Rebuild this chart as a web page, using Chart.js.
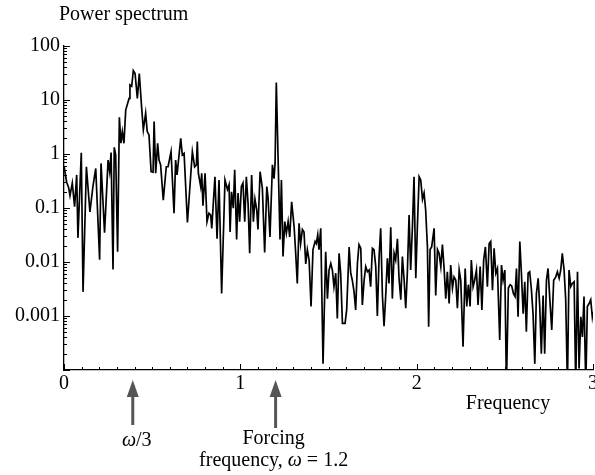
<!DOCTYPE html>
<html>
<head>
<meta charset="utf-8">
<script src="https://cdn.jsdelivr.net/npm/chart.js@4.4.0/dist/chart.umd.min.js"></script>
<style>
  body { margin: 0; background: #fff; }
  canvas { display: block; }
</style>
</head>
<body>
<canvas id="spectrumChart" width="595" height="475"></canvas>
<script>
// frequency axis values
const frequency = [
  0, 0.015, 0.026, 0.034, 0.047, 0.06, 0.072, 0.079, 0.098, 0.108,
  0.127, 0.147, 0.164, 0.18, 0.202, 0.21, 0.23, 0.25, 0.259, 0.267,
  0.278, 0.285, 0.293, 0.304, 0.314, 0.323, 0.331, 0.34, 0.35, 0.369,
  0.374, 0.384, 0.393, 0.403, 0.416, 0.427, 0.44, 0.45, 0.463, 0.472,
  0.482, 0.494, 0.505, 0.511, 0.52, 0.531, 0.539, 0.548, 0.563, 0.58,
  0.59, 0.607, 0.624, 0.633, 0.641, 0.662, 0.671, 0.681, 0.7, 0.713,
  0.728, 0.741, 0.751, 0.756, 0.762, 0.775, 0.781, 0.788, 0.8, 0.811,
  0.822, 0.832, 0.838, 0.856, 0.868, 0.879, 0.894, 0.913, 0.927, 0.936,
  0.942, 0.95, 0.96, 0.968, 0.979, 0.987, 0.996, 1.006, 1.015, 1.025,
  1.034, 1.044, 1.053, 1.064, 1.074, 1.083, 1.093, 1.1, 1.112, 1.125,
  1.138, 1.15, 1.157, 1.168, 1.182, 1.191, 1.197, 1.204, 1.225, 1.233,
  1.242, 1.252, 1.261, 1.271, 1.28, 1.291, 1.305, 1.314, 1.323, 1.333,
  1.342, 1.352, 1.361, 1.371, 1.38, 1.39, 1.401, 1.412, 1.424, 1.431,
  1.439, 1.446, 1.456, 1.469, 1.484, 1.494, 1.503, 1.513, 1.522, 1.531,
  1.541, 1.55, 1.56, 1.569, 1.579, 1.594, 1.603, 1.617, 1.626, 1.635,
  1.645, 1.654, 1.664, 1.673, 1.683, 1.692, 1.702, 1.711, 1.721, 1.73,
  1.739, 1.749, 1.758, 1.768, 1.777, 1.787, 1.796, 1.806, 1.815, 1.825,
  1.834, 1.843, 1.853, 1.862, 1.872, 1.881, 1.891, 1.9, 1.91, 1.919,
  1.929, 1.938, 1.947, 1.957, 1.966, 1.976, 1.985, 1.995, 2.004, 2.014,
  2.023, 2.033, 2.042, 2.051, 2.061, 2.068, 2.076, 2.085, 2.099, 2.108,
  2.118, 2.127, 2.137, 2.146, 2.155, 2.165, 2.174, 2.184, 2.193, 2.203,
  2.212, 2.222, 2.231, 2.241, 2.25, 2.263, 2.275, 2.284, 2.293, 2.303,
  2.31, 2.32, 2.329, 2.339, 2.348, 2.36, 2.37, 2.38, 2.39, 2.401,
  2.411, 2.42, 2.43, 2.439, 2.449, 2.458, 2.471, 2.481, 2.49, 2.5,
  2.509, 2.52, 2.53, 2.539, 2.549, 2.558, 2.566, 2.575, 2.585, 2.594,
  2.604, 2.613, 2.622, 2.632, 2.641, 2.651, 2.66, 2.67, 2.679, 2.689,
  2.698, 2.707, 2.717, 2.726, 2.736, 2.745, 2.755, 2.766, 2.777, 2.788,
  2.798, 2.808, 2.817, 2.826, 2.836, 2.845, 2.855, 2.864, 2.874, 2.883,
  2.893, 2.902, 2.912, 2.921, 2.931, 2.94, 2.949, 2.959, 2.968, 2.978,
  2.987, 2.996, 3.0
];

// power spectrum values (estimated)
const power = [
  0.6, 0.3, 0.24, 0.17, 0.29, 0.106, 0.41, 0.028, 1.05, 0.0028,
  0.58, 0.085, 0.25, 0.54, 0.011, 0.67, 0.035, 0.77, 0.47, 1.06,
  0.0073, 1.33, 0.96, 0.0155, 4.8, 1.58, 2.6, 1.58, 6.5, 10.7,
  19, 18, 35, 31, 10.7, 31, 7.5, 2.8, 5.7, 2.6,
  2.25, 0.47, 0.46, 4.0, 0.44, 1.58, 0.77, 0.63, 0.14, 0.58,
  0.58, 1.1, 0.08, 0.77, 0.41, 1.95, 0.96, 1.03, 0.054, 0.22,
  1.1, 0.58, 0.63, 1.7, 0.44, 0.25, 0.44, 0.11, 0.44, 0.056,
  0.08, 0.074, 0.042, 0.38, 0.027, 0.33, 0.0026, 0.33, 0.22, 0.27,
  0.036, 0.2, 0.099, 0.51, 0.026, 0.19, 0.056, 0.25, 0.29, 0.056,
  0.38, 0.12, 0.0145, 0.41, 0.056, 0.145, 0.092, 0.04, 0.47, 0.23,
  0.015, 0.25, 0.16, 0.029, 0.63, 0.35, 0.67, 21, 0.026, 0.33,
  0.0126, 0.056, 0.034, 0.056, 0.029, 0.13, 0.045, 0.0145, 0.004, 0.052,
  0.022, 0.04, 0.036, 0.0092, 0.017, 0.0109, 0.0015, 0.017, 0.024, 0.022,
  0.032, 0.017, 0.042, 0.00013, 0.0155, 0.0021, 0.0071, 0.0094, 0.0071, 0.0035,
  0.0062, 0.0009, 0.0145, 0.0062, 0.00073, 0.00073, 0.0013, 0.019, 0.0062, 0.0046,
  0.0028, 0.0013, 0.0094, 0.021, 0.018, 0.0016, 0.0046, 0.0082, 0.0066, 0.0071,
  0.0035, 0.018, 0.017, 0.0082, 0.001, 0.0126, 0.042, 0.0023, 0.00065, 0.0026,
  0.0117, 0.004, 0.044, 0.0021, 0.0145, 0.0109, 0.027, 0.005, 0.002, 0.0126,
  0.0046, 0.0014, 0.0062, 0.074, 0.0071, 0.045, 0.38, 0.005, 0.045, 0.38,
  0.33, 0.145, 0.19, 0.092, 0.019, 0.00063, 0.017, 0.019, 0.042, 0.0024,
  0.017, 0.0145, 0.0082, 0.021, 0.0082, 0.0021, 0.0066, 0.0017, 0.0088, 0.0033,
  0.0053, 0.0046, 0.0014, 0.0071, 0.0046, 0.00027, 0.0076, 0.0015, 0.0038, 0.0015,
  0.0109, 0.0035, 0.0046, 0.0071, 0.0016, 0.0082, 0.0013, 0.011, 0.019, 0.0035,
  0.022, 0.024, 0.003, 0.018, 0.0062, 0.0076, 0.00036, 0.0088, 0.0046, 0.0071,
  0.00005, 0.0033, 0.0038, 0.0036, 0.0026, 0.0023, 0.0076, 0.00097, 0.024, 0.0062,
  0.0011, 0.0043, 0.00051, 0.0062, 0.0066, 0.003, 0.0011, 0.00013, 0.0026, 0.005,
  0.0015, 0.0002, 0.0024, 0.0002, 0.0046, 0.0076, 0.0021, 0.00055, 0.0046, 0.0052,
  0.0066, 0.005, 0.0071, 0.0145, 0.0071, 0.0021, 0.00005, 0.0071, 0.0035, 0.004,
  0.0043, 0.00005, 0.0066, 0.000107, 0.00097, 0.00041, 0.0023, 0.00005, 0.0015, 0.0017,
  0.002, 0.00097, 0.0012
];

const xTickValues = [0, 1, 2, 3];
const xTickLabels = ['0', '1', '2', '3'];
const yTickValues = [100, 10, 1, 0.1, 0.01, 0.001];
const yTickLabels = ['100', '10', '1', '0.1', '0.01', '0.001'];

const markers = [
  { at: 0.39, label: [[{ t: 'ω', i: true }, { t: '/3' }]], tail: 425, dx: 4, textY: 446 },
  { at: 1.2, label: [[{ t: 'Forcing' }], [{ t: 'frequency, ' }, { t: 'ω', i: true }, { t: ' = 1.2' }]], tail: 428, dx: -2, textY: 444 }
];

const SERIF = '"Liberation Serif", "Times New Roman", serif';

function drawRich(ctx, parts, cx, y, size) {
  let w = 0;
  parts.forEach(p => {
    ctx.font = (p.i ? 'italic ' : '') + size + 'px ' + SERIF;
    w += ctx.measureText(p.t).width;
  });
  let x = cx - w / 2;
  parts.forEach(p => {
    ctx.font = (p.i ? 'italic ' : '') + size + 'px ' + SERIF;
    ctx.fillText(p.t, x, y);
    x += ctx.measureText(p.t).width;
  });
}

const decorations = {
  id: 'decorations',
  afterDraw(chart) {
    const { ctx, chartArea: area, scales: { x, y } } = chart;
    ctx.save();
    ctx.strokeStyle = '#000';
    ctx.fillStyle = '#000';
    ctx.lineWidth = 1;

    // y ticks, drawn inwards
    for (let e = -4; e <= 2; e++) {
      for (let k = 1; k <= 9; k++) {
        const v = k * Math.pow(10, e);
        if (v > 100 || v < 1e-4) continue;
        const py = Math.round(y.getPixelForValue(v)) + 0.5;
        const len = k === 1 ? 6 : 3;
        ctx.beginPath();
        ctx.moveTo(area.left, py);
        ctx.lineTo(area.left + len, py);
        ctx.stroke();
      }
    }
    // x ticks, drawn inwards
    for (let i = 0; i <= 30; i++) {
      const px = Math.round(x.getPixelForValue(i / 10)) + 0.5;
      const len = i % 10 === 0 ? 6 : 3;
      ctx.beginPath();
      ctx.moveTo(px, area.bottom);
      ctx.lineTo(px, area.bottom - len);
      ctx.stroke();
    }

    // tick labels
    ctx.font = '20px ' + SERIF;
    ctx.textBaseline = 'middle';
    ctx.textAlign = 'right';
    yTickValues.forEach((v, i) => {
      ctx.fillText(yTickLabels[i], area.left - 4, y.getPixelForValue(v));
    });
    ctx.textAlign = 'center';
    xTickValues.forEach((v, i) => {
      ctx.fillText(xTickLabels[i], x.getPixelForValue(v), area.bottom + 14);
    });

    // axis titles
    ctx.textBaseline = 'alphabetic';
    ctx.textAlign = 'left';
    ctx.font = '20px ' + SERIF;
    ctx.fillText('Power spectrum', 59, 20);
    ctx.textAlign = 'center';
    ctx.fillText('Frequency', 508, 409);

    // arrows and their notes
    markers.forEach(m => {
      const px = x.getPixelForValue(m.at);
      const tip = area.bottom + 10;
      ctx.fillStyle = '#555';
      ctx.strokeStyle = '#555';
      ctx.lineWidth = 3;
      ctx.beginPath();
      ctx.moveTo(px, m.tail);
      ctx.lineTo(px, tip + 12);
      ctx.stroke();
      ctx.beginPath();
      ctx.moveTo(px, tip);
      ctx.lineTo(px - 6, tip + 17);
      ctx.lineTo(px + 6, tip + 17);
      ctx.closePath();
      ctx.fill();
      ctx.fillStyle = '#000';
      ctx.textAlign = 'left';
      m.label.forEach((line, li) => {
        drawRich(ctx, line, px + m.dx, m.textY + li * 22, 20);
      });
    });
    ctx.restore();
  }
};

const ctx = document.getElementById('spectrumChart').getContext('2d');
new Chart(ctx, {
  type: 'line',
  data: {
    datasets: [{
      data: frequency.map((f, i) => ({ x: f, y: power[i] })),
      borderColor: '#000',
      borderWidth: 1.7,
      pointRadius: 0,
      tension: 0,
      fill: false
    }]
  },
  options: {
    responsive: false,
    animation: false,
    layout: { padding: { left: 64, right: 2, top: 46, bottom: 105 } },
    plugins: { legend: { display: false }, tooltip: { enabled: false } },
    scales: {
      x: {
        type: 'linear', min: 0, max: 3,
        grid: { display: false, drawTicks: false, tickLength: 0 },
        ticks: { display: false },
        border: { display: true, color: '#000', width: 1.3 }
      },
      y: {
        type: 'logarithmic', min: 1e-4, max: 100,
        grid: { display: false, drawTicks: false, tickLength: 0 },
        ticks: { display: false },
        border: { display: true, color: '#000', width: 1.3 }
      }
    }
  },
  plugins: [decorations]
});
</script>
</body>
</html>
